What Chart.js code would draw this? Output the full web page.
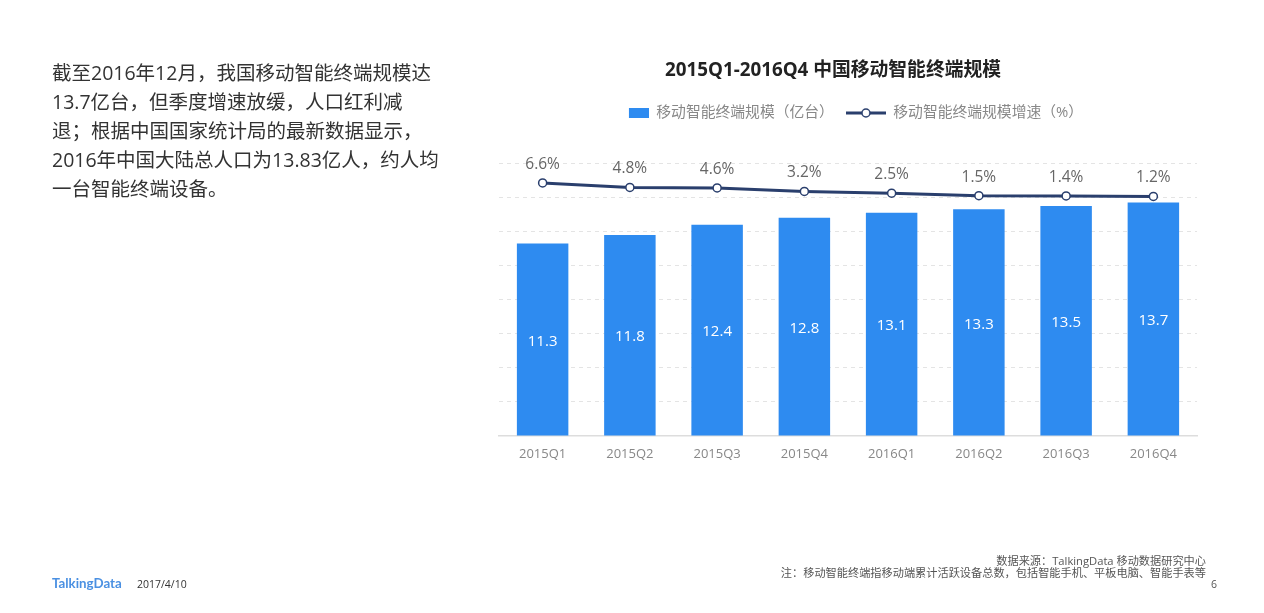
<!DOCTYPE html>
<html>
<head>
<meta charset="utf-8">
<script src="https://cdn.jsdelivr.net/npm/chart.js@4"></script>
<style>
  html, body { margin: 0; width: 1264px; height: 613px; overflow: hidden; background: #fff; }
  body { position: relative; font-family: "Open Sans", "Noto Sans CJK SC", sans-serif; }
  canvas { position: absolute; left: 0; top: 0; }
  .intro { position: absolute; left: 52px; top: 58px; font-size: 19.5px; line-height: 29px; color: #333; white-space: nowrap; }
  .logo { position: absolute; left: 52px; top: 575px; font-size: 13.3px; font-weight: 700; color: #4a90e2; font-family: Lato, sans-serif; }
  .date { position: absolute; left: 137px; top: 577px; font-size: 10.5px; color: #333; }
  .source { position: absolute; right: 58px; top: 554.5px; font-size: 11.2px; line-height: 12.5px; color: #555; text-align: right; white-space: nowrap; }
  .page { position: absolute; left: 1211px; top: 577px; font-size: 10.5px; color: #555; }
</style>
</head>
<body>
<canvas id="chart" width="1264" height="613"></canvas>
<div class="intro">截至2016年12月，我国移动智能终端规模达<br>13.7亿台，但季度增速放缓，人口红利减<br>退；根据中国国家统计局的最新数据显示，<br>2016年中国大陆总人口为13.83亿人，约人均<br>一台智能终端设备。</div>
<div class="logo">TalkingData</div>
<div class="date">2017/4/10</div>
<div class="source">数据来源：TalkingData 移动数据研究中心<br>注：移动智能终端指移动端累计活跃设备总数，包括智能手机、平板电脑、智能手表等</div>
<div class="page">6</div>
<script>
const quarters = ['2015Q1', '2015Q2', '2015Q3', '2015Q4', '2016Q1', '2016Q2', '2016Q3', '2016Q4'];
const deviceCounts = [11.3, 11.8, 12.4, 12.8, 13.1, 13.3, 13.5, 13.7];
const growthRates = [6.6, 4.8, 4.6, 3.2, 2.5, 1.5, 1.4, 1.2];

const FONT = '"Open Sans", "Noto Sans CJK SC", sans-serif';
const BLUE = '#2e8bf0';
const NAVY = '#2a3f6d';

// Legend icons, same canvas width so the labels line up
function rectIcon() {
    const c = document.createElement('canvas');
    c.width = 40; c.height = 12;
    const ctx = c.getContext('2d');
    ctx.fillStyle = BLUE;
    ctx.fillRect(20, 1, 20, 10);
    return c;
}

function lineIcon() {
    const c = document.createElement('canvas');
    c.width = 40; c.height = 12;
    const ctx = c.getContext('2d');
    ctx.strokeStyle = NAVY;
    ctx.lineWidth = 3;
    ctx.beginPath(); ctx.moveTo(0, 6); ctx.lineTo(40, 6); ctx.stroke();
    ctx.fillStyle = '#fff';
    ctx.lineWidth = 1.5;
    ctx.beginPath(); ctx.arc(20, 6, 4, 0, Math.PI * 2); ctx.fill(); ctx.stroke();
    return c;
}

// Title sits left of the plot centre in the original,
// and the legend has more room below it than above
const shiftBoxes = {
    id: 'shiftBoxes',
    afterLayout(chart) {
        chart.titleBlock.left -= 15; chart.titleBlock.right -= 15;
        chart.legend.left -= 2; chart.legend.right -= 2;
        chart.legend.top -= 33; chart.legend.bottom -= 33;
    }
};

// Value labels: white inside the bars, grey above the line points
const valueLabels = {
    id: 'valueLabels',
    afterDatasetsDraw(chart) {
        const ctx = chart.ctx;
        ctx.save();
        ctx.textAlign = 'center';
        ctx.textBaseline = 'middle';
        ctx.font = '15px ' + FONT;
        chart.getDatasetMeta(0).data.forEach((bar, i) => {
            ctx.fillStyle = '#fff';
            ctx.fillText(deviceCounts[i].toFixed(1), bar.x, (bar.y + bar.base) / 2 + 2);
        });
        ctx.font = '15.5px ' + FONT;
        chart.getDatasetMeta(1).data.forEach((pt, i) => {
            ctx.fillStyle = '#666';
            ctx.fillText(growthRates[i].toFixed(1) + '%', pt.x, pt.y - 18.5);
        });
        ctx.restore();
    }
};

new Chart(document.getElementById('chart'), {
    data: {
        labels: quarters,
        datasets: [
            {
                type: 'bar',
                label: '移动智能终端规模（亿台）',
                data: deviceCounts,
                backgroundColor: BLUE,
                barPercentage: 0.59,
                categoryPercentage: 1,
                yAxisID: 'y',
                order: 2
            },
            {
                type: 'line',
                label: '移动智能终端规模增速（%）',
                data: growthRates,
                borderColor: NAVY,
                borderWidth: 3,
                tension: 0,
                pointRadius: 4,
                pointBorderWidth: 1.5,
                pointBackgroundColor: '#fff',
                pointBorderColor: NAVY,
                yAxisID: 'y1',
                order: 1
            }
        ]
    },
    options: {
        responsive: false,
        animation: false,
        layout: { padding: { left: 499, right: 67, top: 59, bottom: 147.5 } },
        plugins: {
            tooltip: { enabled: false },
            title: {
                display: true,
                text: '2015Q1-2016Q4 中国移动智能终端规模',
                color: '#222',
                font: { family: FONT, size: 18.8, weight: 'bold' },
                padding: { top: 0, bottom: 45 }
            },
            legend: {
                labels: {
                    usePointStyle: true,
                    pointStyleWidth: 40,
                    padding: 12,
                    color: '#888',
                    font: { family: FONT, size: 14.8 },
                    generateLabels(chart) {
                        const icons = [rectIcon(), lineIcon()];
                        return chart.data.datasets.map((ds, i) => ({
                            text: ds.label,
                            pointStyle: icons[i],
                            fontColor: '#888',
                            datasetIndex: i
                        }));
                    }
                }
            }
        },
        scales: {
            x: {
                grid: { display: false },
                border: { color: '#ddd', width: 1.5 },
                ticks: { color: '#888', font: { family: FONT, size: 13 }, padding: 3, maxRotation: 0 }
            },
            y: {
                min: 0,
                max: 16,
                ticks: { stepSize: 2, display: false },
                grid: { color: '#e4e4e4', drawTicks: false },
                border: { display: false, dash: [4, 4] }
            },
            // Hidden axis: the line floats above the bars in the original
            y1: {
                display: false,
                min: -94.4,
                max: 14.4
            }
        }
    },
    plugins: [shiftBoxes, valueLabels]
});
</script>
</body>
</html>
